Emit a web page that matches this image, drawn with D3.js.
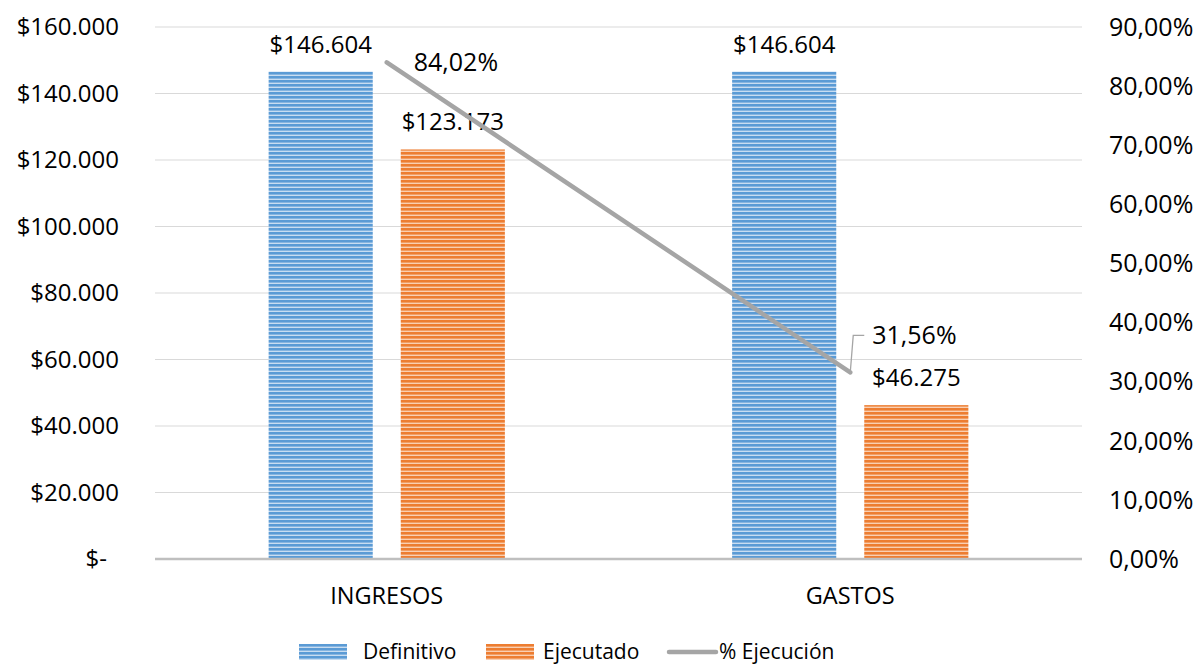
<!DOCTYPE html>
<html>
<head>
<meta charset="utf-8">
<script src="https://cdn.jsdelivr.net/npm/d3@7"></script>
<style>
  body { margin: 0; background: #fff; }
  text { font-family: "Open Sans", Lato, sans-serif; fill: #000; }
</style>
</head>
<body>
<div id="chart"></div>
<script>
const categories = ['INGRESOS', 'GASTOS'];
const definitivo = [146604, 146604];
const ejecutado = [123173, 46275];
const ejecucion = [0.8402, 0.3156];
const leftTicks = [0, 20000, 40000, 60000, 80000, 100000, 120000, 140000, 160000];
const rightTicks = [0, 0.1, 0.2, 0.3, 0.4, 0.5, 0.6, 0.7, 0.8, 0.9];
const seriesNames = ['Definitivo', 'Ejecutado', '% Ejecución'];

const W = 1199, H = 665;
const margin = { left: 155, right: 117, top: 27, bottom: 106 };
const fs = 24;

const svg = d3.select('#chart').append('svg')
  .attr('width', W).attr('height', H);

const defs = svg.append('defs');
function stripes(id, dark, light) {
  const p = defs.append('pattern').attr('id', id)
    .attr('patternUnits', 'userSpaceOnUse').attr('width', 8).attr('height', 4);
  p.append('rect').attr('width', 8).attr('height', 4).attr('fill', dark);
  p.append('rect').attr('y', 2.6).attr('width', 8).attr('height', 1.4).attr('fill', light);
}
stripes('blueStripe', '#5b9bd5', '#c9ddf1');
stripes('orangeStripe', '#ed7d31', '#f9cfb2');

const x0 = d3.scaleBand().domain(categories).range([margin.left, W - margin.right]);
const x1 = d3.scaleBand().domain(['def', 'eje']).range([0, x0.bandwidth()])
  .paddingInner(0.212).paddingOuter(0.86);
const y = d3.scaleLinear().domain([0, 160000]).range([H - margin.bottom, margin.top]);
const y2 = d3.scaleLinear().domain([0, 0.9]).range([H - margin.bottom, margin.top]);

// gridlines
svg.append('g').selectAll('line').data(leftTicks.slice(1)).join('line')
  .attr('x1', margin.left).attr('x2', W - margin.right)
  .attr('y1', d => y(d)).attr('y2', d => y(d))
  .attr('stroke', '#d9d9d9').attr('stroke-width', 1);

// left axis labels (accounting format: zero shows as "$-" with trailing padding)
const fmtMoney = v => v === 0 ? '$-' : '$' + d3.format(',')(v).replace(/,/g, '.');
svg.append('g').selectAll('text').data(leftTicks).join('text')
  .attr('x', d => d === 0 ? 107 : 119).attr('y', d => y(d)).attr('dy', '0.35em')
  .attr('text-anchor', 'end').attr('font-size', fs)
  .text(fmtMoney);

// right axis labels
const fmtPct = v => d3.format('.2f')(v * 100).replace('.', ',') + '%';
svg.append('g').selectAll('text').data(rightTicks).join('text')
  .attr('x', 1109).attr('y', d => y2(d)).attr('dy', '0.35em')
  .attr('text-anchor', 'start').attr('font-size', 25)
  .text(fmtPct);

// bars
const rows = categories.map((c, i) => ({ cat: c, def: definitivo[i], eje: ejecutado[i], pct: ejecucion[i] }));
const grp = svg.append('g').selectAll('g').data(rows).join('g')
  .attr('transform', d => `translate(${x0(d.cat)},0)`);

grp.append('rect')
  .attr('x', x1('def')).attr('width', x1.bandwidth())
  .attr('y', d => y(d.def)).attr('height', d => y(0) - y(d.def))
  .attr('fill', 'url(#blueStripe)');
grp.append('rect')
  .attr('x', x1('eje')).attr('width', x1.bandwidth())
  .attr('y', d => y(d.eje)).attr('height', d => y(0) - y(d.eje))
  .attr('fill', 'url(#orangeStripe)');

// bar labels
grp.append('text')
  .attr('x', x1('def') + x1.bandwidth() / 2).attr('y', d => y(d.def) - 19)
  .attr('text-anchor', 'middle').attr('font-size', fs)
  .text(d => fmtMoney(d.def));
grp.append('text')
  .attr('x', x1('eje') + x1.bandwidth() / 2).attr('y', d => y(d.eje) - 19)
  .attr('text-anchor', 'middle').attr('font-size', fs)
  .text(d => fmtMoney(d.eje));

// baseline axis
svg.append('line')
  .attr('x1', margin.left).attr('x2', W - margin.right)
  .attr('y1', y(0)).attr('y2', y(0))
  .attr('stroke', '#bfbfbf').attr('stroke-width', 2.5);

// category labels
svg.append('g').selectAll('text').data(categories).join('text')
  .attr('x', d => x0(d) + x0.bandwidth() / 2).attr('y', y(0) + 45)
  .attr('text-anchor', 'middle').attr('font-size', 23.5)
  .text(d => d);

// percent line
const cx = d => x0(d.cat) + x0.bandwidth() / 2;
svg.append('path').datum(rows)
  .attr('d', d3.line().x(cx).y(d => y2(d.pct)))
  .attr('fill', 'none').attr('stroke', '#a5a5a5').attr('stroke-width', 4.5)
  .attr('stroke-linecap', 'round');

// percent labels
const p0 = rows[0], p1 = rows[1];
svg.append('text')
  .attr('x', cx(p0) + 27).attr('y', y2(p0.pct)).attr('dy', '0.35em')
  .attr('text-anchor', 'start').attr('font-size', 25)
  .text(fmtPct(p0.pct));
// leader line for second label
const lx = cx(p1), ly = y2(p1.pct);
svg.append('path')
  .attr('d', `M${lx},${ly} L${lx + 3},${ly - 37} L${lx + 14},${ly - 37}`)
  .attr('fill', 'none').attr('stroke', '#a5a5a5').attr('stroke-width', 1.3);
svg.append('text')
  .attr('x', lx + 22).attr('y', ly - 37).attr('dy', '0.35em')
  .attr('text-anchor', 'start').attr('font-size', 25)
  .text(fmtPct(p1.pct));

// legend
const legend = svg.append('g').attr('font-size', 21);
const ly0 = 652;
const items = [
  { name: seriesNames[0], kind: 'rect', fill: 'url(#blueStripe)', sx: 299, tx: 363 },
  { name: seriesNames[1], kind: 'rect', fill: 'url(#orangeStripe)', sx: 486, tx: 543 },
  { name: seriesNames[2], kind: 'line', sx: 669, tx: 719 }
];
items.forEach(it => {
  if (it.kind === 'rect') {
    legend.append('rect').attr('x', it.sx).attr('y', ly0 - 8).attr('width', 48).attr('height', 16)
      .attr('fill', it.fill);
  } else {
    legend.append('line').attr('x1', it.sx).attr('x2', it.sx + 47)
      .attr('y1', ly0).attr('y2', ly0)
      .attr('stroke', '#a5a5a5').attr('stroke-width', 4.5).attr('stroke-linecap', 'round');
  }
  legend.append('text').attr('x', it.tx).attr('y', ly0).attr('dy', '0.35em').text(it.name);
});
</script>
</body>
</html>
